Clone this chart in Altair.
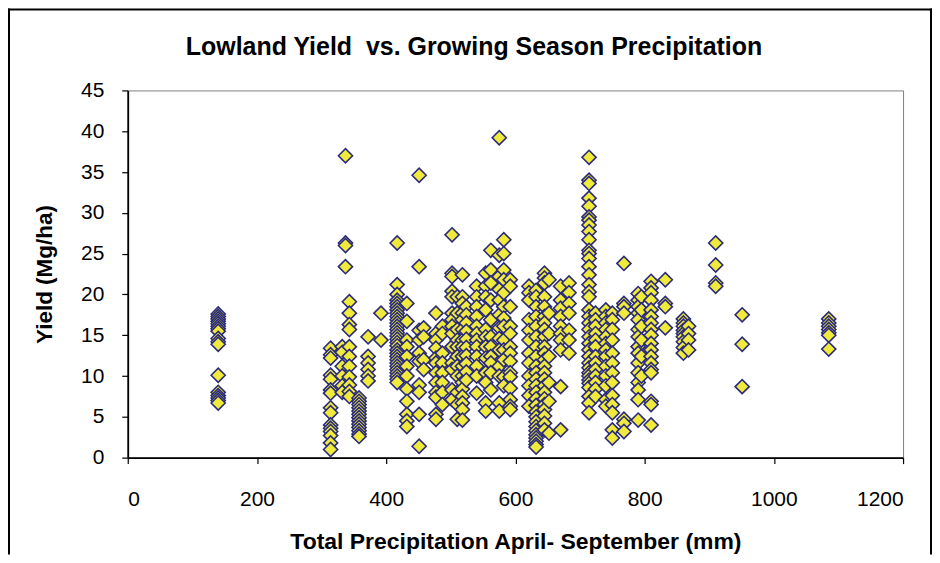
import altair as alt
import pandas as pd

# Precipitation (mm) of each site-year column and the yields (Mg/ha) observed there
cluster_x = [140, 314, 332, 337, 343, 358, 372, 392, 417, 432, 451, 458, 477, 487,
             502, 510, 518, 524, 540, 554, 562, 575, 582, 592, 621, 632, 645, 652,
             670, 683, 714, 724, 740, 750, 768, 790, 795, 810, 832, 860, 868, 910,
             951, 1085]
cluster_y = [
    [17.6, 17.3, 17.0, 16.7, 16.4, 16.1, 15.8, 15.5, 14.6, 14.2, 13.9, 10.1, 8.0, 7.6, 7.3, 7.0, 6.7],
    [13.4, 12.6, 12.2, 10.1, 9.6, 8.3, 7.9, 6.1, 5.5, 4.0, 3.6, 3.2, 2.7, 1.8, 1.0],
    [13.6, 12.9, 11.2, 10.0, 8.8, 8.0],
    [37.0, 26.3, 26.0, 23.4],
    [19.1, 17.7, 16.3, 15.7, 13.6, 12.4, 11.2, 9.9, 8.9, 8.1, 7.5],
    [7.3, 6.9, 6.5, 6.1, 5.7, 5.3, 4.9, 4.5, 4.1, 3.7, 3.3, 2.9, 2.6],
    [14.8, 12.4, 11.6, 10.8, 10.0, 9.4],
    [17.7, 14.4],
    [26.3, 21.2, 20.0, 19.3, 18.9, 18.5, 18.1, 17.7, 17.3, 16.9, 16.5, 16.1, 15.7, 15.3, 14.9,
     14.5, 14.1, 13.7, 13.2, 12.8, 12.4, 12.0, 11.6, 11.2, 10.8, 10.4, 10.0, 9.6, 9.2],
    [18.9, 16.7, 14.4, 13.6, 12.4, 11.2, 10.0, 8.4, 6.9, 5.3, 4.5, 3.8],
    [34.6, 23.4, 15.6, 14.4, 12.8, 11.8, 8.9, 8.0, 5.3, 1.4],
    [15.9, 14.8, 12.0, 10.8],
    [17.7, 15.2, 14.4, 13.4, 12.2, 11.6, 10.4, 9.2, 8.0, 7.4, 5.3, 4.7],
    [16.1, 15.2, 12.8, 11.6, 10.4, 9.2, 8.0, 6.5],
    [27.3, 22.6, 22.2, 20.4, 19.7, 17.7, 16.9, 16.1, 15.2, 13.6, 11.6, 10.8, 8.3, 7.1],
    [19.7, 17.7, 15.7, 14.4, 13.6, 12.4, 11.2, 10.0, 8.0, 6.5, 4.7],
    [22.4, 19.7, 18.9, 17.7, 16.9, 15.7, 14.4, 13.6, 12.4, 11.2, 10.0, 9.2, 8.4, 7.5, 6.7, 5.9, 4.6],
    [18.5, 17.5, 16.5, 15.5, 14.5, 13.5, 12.5, 11.5, 10.5, 9.5],
    [21.0, 19.7, 18.5, 17.3, 16.1, 15.2, 14.4, 13.6, 12.4, 11.2, 10.0, 7.9],
    [22.6, 21.0, 19.7, 18.1, 15.7, 14.8, 13.6, 12.2, 10.4, 9.2, 6.7, 5.7],
    [25.4, 23.0, 21.4, 19.3, 16.9, 14.8, 13.6, 12.4, 11.6, 10.4, 8.3],
    [39.2, 24.8, 22.2, 20.6, 19.3, 17.5, 15.9, 14.6, 13.2, 11.2, 10.0, 6.7, 5.7],
    [26.7, 25.0, 23.0, 21.8, 20.2, 18.5, 17.1, 16.1, 14.4, 13.2, 12.0, 9.9, 8.8],
    [21.8, 21.0, 18.5, 16.1, 15.2, 13.6, 12.8, 11.8, 10.4, 9.9, 8.5, 7.1, 6.3, 5.9],
    [21.0, 20.2, 19.3, 16.9, 15.6, 14.4, 12.8, 11.6, 10.0, 8.8, 7.6, 6.3],
    [20.5, 19.7, 18.5, 17.3, 16.1, 14.8, 13.6, 12.4, 11.2, 10.4, 9.6, 8.8, 8.0, 7.2, 6.4, 5.6,
     5.0, 4.4, 3.8, 3.3, 2.8, 2.4, 2.0, 1.6, 1.3],
    [22.6, 22.0, 21.4, 19.7, 18.5, 17.3, 16.5, 15.7, 14.8, 13.6, 12.8, 12.0, 11.2, 10.4, 9.6,
     8.8, 8.0, 7.2, 6.5, 5.9, 5.1, 4.2, 3.4],
    [21.8, 17.7, 15.2, 12.4, 9.2, 6.9, 3.0],
    [21.0, 19.3, 18.3, 17.3, 16.1, 15.2, 14.4, 13.2, 8.7, 3.4],
    [21.4, 20.2, 18.9, 17.7, 15.6, 14.4, 12.8],
    [36.8, 34.0, 33.6, 31.8, 30.8, 29.5, 29.1, 28.5, 27.7, 26.7, 25.4, 25.0, 24.4, 23.4, 22.4,
     21.2, 20.3, 19.7, 18.1, 17.3, 16.5, 15.7, 14.8, 14.0, 13.2, 12.4, 11.6, 11.0, 10.4, 10.0,
     9.5, 9.1, 8.6, 7.5, 6.7, 5.5],
    [17.7, 16.9, 16.1, 15.2, 14.4, 13.6, 12.4, 11.6, 10.8, 10.0, 9.2, 8.4, 7.5],
    [18.1, 17.3, 16.5, 15.7, 14.8, 14.0, 13.2, 12.4, 11.2, 10.0, 8.8, 7.1, 6.3],
    [17.7, 16.9, 15.7, 14.4, 12.8, 11.6, 10.4, 9.2, 7.6, 6.5, 5.5, 3.4, 2.4],
    [23.8, 18.9, 18.5, 17.7, 4.7, 4.2, 3.2],
    [20.1, 19.3, 18.5, 17.7, 16.9, 15.7, 14.8, 13.6, 12.8, 11.6, 10.4, 9.2, 8.3, 7.1, 4.6],
    [19.7, 18.1, 16.1, 14.4, 12.4, 10.0],
    [21.6, 20.8, 20.2, 19.3, 18.1, 17.3, 16.5, 15.7, 15.0, 14.0, 13.2, 12.4, 11.6, 10.8, 10.4,
     6.9, 6.5, 4.0],
    [21.8, 18.9, 18.5, 15.9],
    [17.0, 16.5, 16.1, 15.6, 15.2, 14.8, 14.2, 13.5, 12.8],
    [16.1, 15.2, 14.4, 13.2],
    [26.3, 23.6, 21.4, 21.0],
    [17.5, 13.9, 8.7],
    [17.0, 16.5, 16.1, 15.7, 15.3, 15.0, 13.3],
]

x_ticks = [0, 200, 400, 600, 800, 1000, 1200]
y_ticks = [0, 5, 10, 15, 20, 25, 30, 35, 40, 45]
chart_title = "Lowland Yield\u00a0 vs. Growing Season Precipitation"

rows = [{"precip": px, "yield": yv} for px, ys in zip(cluster_x, cluster_y) for yv in ys]
df = pd.DataFrame(rows)

FONT = "Liberation Sans"
W, H = 777, 368

points = alt.Chart(df).mark_point(
    shape="diamond", filled=True, fill="#EFEA3C", stroke="#2B2B7C",
    strokeWidth=1.6, size=200, opacity=1
).encode(
    x=alt.X("precip:Q", scale=alt.Scale(domain=[0, 1200], nice=False),
            axis=alt.Axis(values=x_ticks, format="d",
                          title="Total Precipitation April- September (mm)",
                          labelPadding=25, titleY=84, titleBaseline="middle")),
    y=alt.Y("yield:Q", scale=alt.Scale(domain=[0, 45], nice=False),
            axis=alt.Axis(values=y_ticks, format="d", title="Yield (Mg/ha)", labelPadding=18,
                          titleX=-83, titleBaseline="middle")),
)

frame_df = pd.DataFrame({"label": [chart_title]})
title_text = alt.Chart(frame_df).mark_text(
    font=FONT, fontSize=25, fontWeight="bold", color="black", align="center", baseline="middle"
).encode(x=alt.value(347), y=alt.value(-43), text="label:N")

left_border = alt.Chart(frame_df).mark_rule(color="black", strokeWidth=2).encode(
    x=alt.value(-119), y=alt.value(-82), y2=alt.value(465))
top_border = alt.Chart(frame_df).mark_rule(color="black", strokeWidth=2).encode(
    x=alt.value(-120), x2=alt.value(806), y=alt.value(-81))
right_border = alt.Chart(frame_df).mark_rule(color="black", strokeWidth=2).encode(
    x=alt.value(805), y=alt.value(-82), y2=alt.value(465))

chart = alt.layer(points, title_text, left_border, top_border, right_border).properties(
    width=W, height=H,
    autosize=alt.AutoSizeParams(type="none"),
    padding={"left": 120, "top": 82, "right": 29, "bottom": 97},
).configure_view(
    stroke="#808080", strokeWidth=1
).configure_axis(
    grid=False, domainColor="black", domainWidth=1.8, tickColor="black", tickWidth=1.2,
    tickSize=6, labelFont=FONT, labelFontSize=21, labelColor="black",
    titleFont=FONT, titleFontSize=23, titleFontWeight="bold", titleColor="black",
).configure_axisY(titleFontSize=22.5)

chart.save("out.html", embed_options={"renderer": "svg", "actions": False})
